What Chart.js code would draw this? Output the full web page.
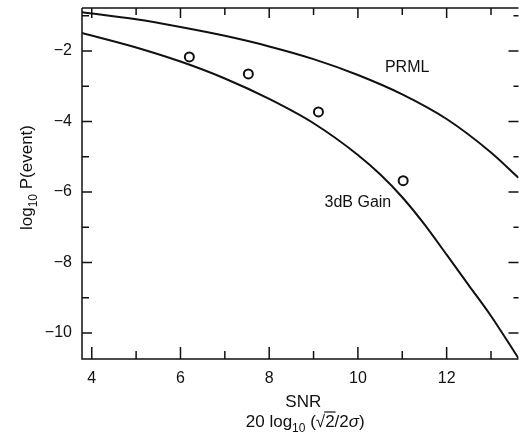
<!DOCTYPE html>
<html>
<head>
<meta charset="utf-8">
<script src="https://cdn.jsdelivr.net/npm/chart.js@4.4.1/dist/chart.umd.min.js"></script>
<style>
  html, body { margin: 0; padding: 0; background: #fff; }
  .wrap { width: 525px; height: 437px; position: relative; }
</style>
</head>
<body>
<div class="wrap"><canvas id="chart"></canvas></div>
<script>
// curves (SNR in dB, log10 P(event))
const snrPRML = [3.78, 5, 6, 7, 8, 9, 10, 11, 12, 13, 13.62];
const logPPRML = [-0.90, -1.10, -1.32, -1.57, -1.87, -2.23, -2.68, -3.23, -3.93, -4.88, -5.60];

const snrGain = [3.78, 5, 6, 7, 8, 9, 10, 10.5, 11, 11.5, 12, 12.5, 13, 13.62];
const logPGain = [-1.49, -1.90, -2.30, -2.78, -3.36, -4.05, -4.95, -5.50, -6.15, -6.92, -7.78, -8.65, -9.52, -10.72];

// measured points (open circles)
const snrMeasured = [6.2, 7.53, 9.11, 11.02];
const logPMeasured = [-2.17, -2.65, -3.73, -5.68];

const xMajor = [4, 6, 8, 10, 12];
const xMinor = [5, 7, 9, 11, 13];
const yMajor = [-2, -4, -6, -8, -10];
const yMinor = [-1, -3, -5, -7, -9];

const curveLabels = ['PRML', '3dB Gain'];
const curveLabelX = [11.11, 10.0];
const curveLabelY = [-2.48, -6.31];

const FONT = '"Liberation Sans", Arial, Helvetica, sans-serif';

function pts(xs, ys) {
    return xs.map((v, i) => ({x: v, y: ys[i]}));
}

// writes a row of text pieces centred on cx
function richText(ctx, parts, cx, y) {
    let w = 0;
    parts.forEach(p => {
        ctx.font = p.font;
        p.w = ctx.measureText(p.t).width;
        w += p.w;
    });
    let x = cx - w / 2;
    parts.forEach(p => {
        ctx.font = p.font;
        ctx.fillText(p.t, x, y + (p.dy || 0));
        p.x = x;
        x += p.w;
    });
    return parts;
}

const frame = {
    id: 'frame',
    afterDatasetsDraw(chart) {
        const {ctx, chartArea: a, scales: {x, y}} = chart;
        ctx.save();
        ctx.strokeStyle = '#111';
        ctx.lineWidth = 1.5;
        ctx.beginPath();
        ctx.moveTo(a.left, a.top);
        ctx.lineTo(a.right, a.top);
        ctx.moveTo(a.left, a.top);
        ctx.lineTo(a.left, a.bottom);
        ctx.lineTo(a.right, a.bottom);

        const xt = (v, lb, lt) => {
            const px = x.getPixelForValue(v);
            ctx.moveTo(px, a.bottom);
            ctx.lineTo(px, a.bottom - lb);
            ctx.moveTo(px, a.top);
            ctx.lineTo(px, a.top + lt);
        };
        xMajor.forEach(v => xt(v, 12, 10));
        xMinor.forEach(v => xt(v, 8, 7));

        const yt = (v, ll, lr) => {
            const py = y.getPixelForValue(v);
            ctx.moveTo(a.left, py);
            ctx.lineTo(a.left + ll, py);
            ctx.moveTo(a.right, py);
            ctx.lineTo(a.right - lr, py);
        };
        yMajor.forEach(v => yt(v, 10, 10));
        yMinor.forEach(v => yt(v, 7, 5));
        ctx.stroke();

        // curve names
        ctx.fillStyle = '#111';
        ctx.textAlign = 'center';
        ctx.textBaseline = 'middle';
        ctx.font = '16px ' + FONT;
        curveLabels.forEach((t, i) => {
            ctx.fillText(t, x.getPixelForValue(curveLabelX[i]), y.getPixelForValue(curveLabelY[i]));
        });

        // axis titles
        ctx.textAlign = 'left';
        ctx.textBaseline = 'alphabetic';
        const big = '17px ' + FONT;
        const sub = '12px ' + FONT;
        const cx = (a.left + a.right) / 2;

        ctx.font = big;
        ctx.textAlign = 'center';
        ctx.fillText('SNR', cx + 3, 407);
        ctx.textAlign = 'left';

        const parts = richText(ctx, [
            {t: '20 log', font: big},
            {t: '10', font: sub, dy: 5},
            {t: ' (\u221A', font: big},
            {t: '2', font: big},
            {t: '/2', font: big},
            {t: '\u03C3', font: 'italic ' + big},
            {t: ')', font: big}
        ], cx + 5, 427);
        const two = parts[3];
        ctx.lineWidth = 1.2;
        ctx.beginPath();
        ctx.moveTo(two.x - 1, 427 - 15);
        ctx.lineTo(two.x + two.w + 1, 427 - 15);
        ctx.stroke();

        ctx.translate(32, (a.top + a.bottom) / 2 - 6);
        ctx.rotate(-Math.PI / 2);
        richText(ctx, [
            {t: 'log', font: big},
            {t: '10', font: sub, dy: 5},
            {t: ' P(event)', font: big}
        ], 0, 0);
        ctx.restore();
    }
};

const minus = v => (v < 0 ? '\u2212' + Math.abs(v) : '' + v);

new Chart(document.getElementById('chart').getContext('2d'), {
    type: 'scatter',
    data: {
        datasets: [
            {
                label: 'PRML',
                data: pts(snrPRML, logPPRML),
                showLine: true,
                borderColor: '#111',
                borderWidth: 2,
                pointRadius: 0,
                cubicInterpolationMode: 'monotone'
            },
            {
                label: '3dB Gain',
                data: pts(snrGain, logPGain),
                showLine: true,
                borderColor: '#111',
                borderWidth: 2,
                pointRadius: 0,
                cubicInterpolationMode: 'monotone'
            },
            {
                label: 'measured',
                data: pts(snrMeasured, logPMeasured),
                showLine: false,
                pointStyle: 'circle',
                pointRadius: 4.5,
                borderWidth: 2,
                borderColor: '#111',
                backgroundColor: '#fff'
            }
        ]
    },
    options: {
        responsive: true,
        maintainAspectRatio: false,
        animation: false,
        layout: {padding: {top: 8, right: 0, left: 0, bottom: 0}},
        plugins: {
            legend: {display: false},
            tooltip: {enabled: false}
        },
        scales: {
            x: {
                type: 'linear',
                min: 3.78,
                max: 13.62,
                afterBuildTicks: s => { s.ticks = xMajor.map(v => ({value: v})); },
                afterFit: s => { s.height = 78; s.paddingLeft = 0; s.paddingRight = 0; },
                grid: {display: false, drawTicks: false},
                border: {display: false},
                ticks: {
                    font: {size: 16, family: FONT},
                    color: '#111',
                    padding: 10,
                    maxRotation: 0
                }
            },
            y: {
                type: 'linear',
                min: -10.74,
                max: -0.78,
                afterBuildTicks: s => { s.ticks = yMajor.map(v => ({value: v})); },
                afterFit: s => { s.width = 82; s.paddingTop = 0; s.paddingBottom = 0; },
                grid: {display: false, drawTicks: false},
                border: {display: false},
                ticks: {
                    font: {size: 16, family: FONT},
                    color: '#111',
                    padding: 10,
                    callback: minus
                }
            }
        }
    },
    plugins: [frame]
});
</script>
</body>
</html>
